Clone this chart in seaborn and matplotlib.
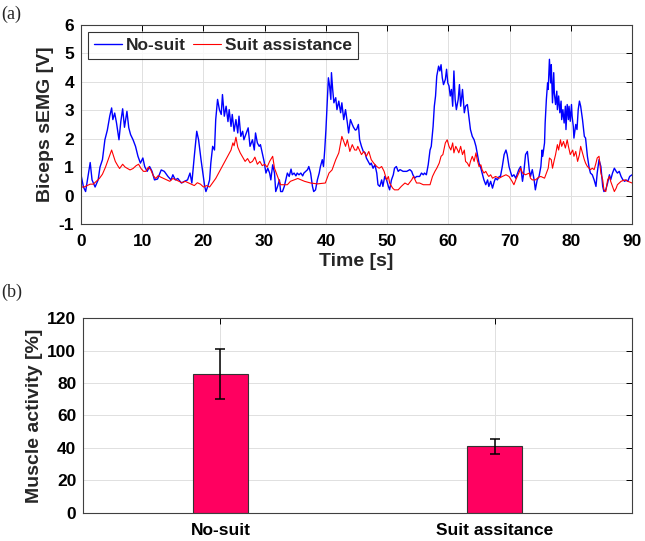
import numpy as np
import pandas as pd
import seaborn as sns
import matplotlib.pyplot as plt

# (a) biceps sEMG trace: time [s] / signal [V]
t_nosuit = [0.0, 0.4, 0.75, 1.5, 1.8, 2.3, 2.8, 3.1, 3.5, 3.9, 4.3, 4.7, 5.0, 5.2, 5.5, 5.8, 6.2, 6.5, 6.8, 7.1,
            7.5, 7.8, 8.1, 8.5, 8.9, 9.3, 9.7, 10.1, 10.4, 10.8, 11.2, 11.6, 12.0, 12.5, 13.1, 13.6, 14.2, 14.7, 15.0, 15.4,
            15.8, 16.4, 16.9, 17.4, 17.8, 18.1, 18.5, 18.9, 19.2, 19.6, 19.9, 20.2, 20.4, 20.7, 21.0, 21.2, 21.5, 21.8, 22.0, 22.3,
            22.6, 22.9, 23.1, 23.4, 23.7, 24.0, 24.2, 24.5, 24.7, 25.0, 25.3, 25.6, 25.8, 26.1, 26.4, 26.6, 27.0, 27.3, 27.6, 28.0,
            28.3, 28.5, 28.8, 29.1, 29.3, 29.6, 29.9, 30.2, 30.5, 30.8, 31.0, 31.3, 31.6, 31.8, 32.1, 32.4, 32.6, 32.9, 33.2, 33.5,
            33.7, 34.0, 34.3, 34.5, 34.8, 35.1, 35.3, 35.6, 35.9, 36.2, 36.4, 36.7, 37.0, 37.2, 37.5, 37.8, 38.0, 38.3, 38.6, 38.9,
            39.1, 39.4, 39.6, 39.8, 40.0, 40.2, 40.4, 40.6, 40.8, 40.9, 41.1, 41.3, 41.6, 41.8, 42.1, 42.4, 42.6, 42.9, 43.2, 43.5,
            43.7, 44.0, 44.3, 44.5, 44.8, 45.0, 45.3, 45.5, 45.8, 46.1, 46.4, 46.6, 46.9, 47.2, 47.4, 47.7, 48.0, 48.3, 48.5, 48.8,
            49.1, 49.3, 49.6, 49.9, 50.2, 50.4, 50.7, 51.0, 51.2, 51.5, 51.8, 52.1, 52.6, 53.2, 53.7, 54.0, 54.2, 54.5, 54.8, 55.3,
            55.6, 55.9, 56.1, 56.4, 56.7, 57.0, 57.2, 57.5, 57.7, 57.9, 58.1, 58.4, 58.6, 58.8, 59.0, 59.2, 59.5, 59.7, 59.9, 60.1,
            60.3, 60.5, 60.7, 60.9, 61.1, 61.3, 61.6, 61.8, 62.0, 62.3, 62.6, 62.8, 63.1, 63.4, 63.6, 63.9, 64.2, 64.5, 64.7, 65.0,
            65.3, 65.5, 65.8, 66.1, 66.4, 66.6, 66.9, 67.2, 67.5, 67.7, 68.0, 68.3, 68.5, 68.8, 69.1, 69.4, 69.6, 69.9, 70.2, 70.4,
            70.7, 71.0, 71.3, 71.5, 71.8, 72.1, 72.3, 72.6, 72.9, 73.2, 73.4, 73.7, 74.0, 74.2, 74.5, 74.8, 75.1, 75.3, 75.4, 75.7,
            75.8, 76.0, 76.2, 76.3, 76.5, 76.7, 76.8, 77.0, 77.2, 77.3, 77.5, 77.7, 77.8, 78.0, 78.2, 78.4, 78.5, 78.7, 78.9, 79.1,
            79.2, 79.4, 79.6, 79.7, 79.9, 80.1, 80.2, 80.4, 80.5, 80.8, 81.0, 81.2, 81.4, 81.6, 81.9, 82.2, 82.4, 82.7, 83.0, 83.2,
            83.5, 83.8, 84.1, 84.3, 84.6, 84.9, 85.2, 85.4, 85.7, 86.0, 86.3, 86.5, 86.8, 87.1, 87.4, 87.6, 87.9, 88.2, 88.5, 88.8,
            89.0, 89.3, 89.6, 90.0]
v_nosuit = [0.73, 0.3, 0.14, 1.16, 0.55, 0.3, 0.55, 1.0, 1.26, 1.96, 2.3, 2.8, 3.08, 2.67, 2.9, 2.55, 1.96, 2.6, 3.05, 2.4,
            2.96, 2.38, 2.14, 1.96, 1.73, 1.38, 1.14, 1.32, 1.02, 0.85, 1.02, 0.85, 0.55, 0.58, 0.9, 0.85, 0.67, 0.55, 0.73, 0.55,
            0.6, 0.44, 0.5, 0.55, 0.79, 0.44, 1.38, 2.26, 1.96, 1.26, 0.79, 0.32, 0.14, 0.32, 0.55, 1.14, 1.73, 1.6, 2.67, 3.38,
            3.02, 2.85, 3.55, 2.79, 3.14, 2.6, 3.02, 2.43, 2.85, 2.26, 2.67, 2.2, 2.79, 2.08, 2.26, 1.96, 2.2, 2.38, 1.73, 1.96,
            1.6, 2.2, 1.85, 1.73, 1.79, 1.5, 1.2, 0.79, 0.96, 0.79, 0.55, 1.08, 0.79, 0.14, 0.32, 0.55, 0.14, 0.14, 0.32, 0.61,
            0.79, 0.67, 0.93, 0.73, 0.79, 0.69, 0.79, 0.73, 0.79, 0.69, 0.79, 0.85, 0.91, 1.02, 0.79, 0.32, 0.14, 0.2, 0.55, 0.79,
            1.02, 1.26, 1.02, 1.6, 2.32, 3.26, 4.14, 3.85, 3.38, 4.32, 3.73, 3.26, 3.44, 3.02, 3.32, 2.91, 3.26, 2.67, 3.02, 2.55,
            2.2, 2.67, 2.5, 2.4, 2.3, 2.32, 2.5, 1.96, 1.73, 1.55, 1.5, 1.32, 1.2, 1.08, 1.14, 0.96, 1.08, 0.79, 0.38, 0.32,
            0.55, 0.32, 0.67, 0.55, 0.32, 0.2, 0.55, 0.73, 0.96, 1.02, 0.85, 0.91, 0.85, 0.85, 0.91, 0.85, 0.73, 0.61, 0.67, 0.67,
            0.79, 0.73, 0.79, 0.73, 1.08, 1.6, 1.73, 2.43, 3.14, 3.5, 4.2, 4.55, 4.38, 4.6, 4.14, 3.9, 4.08, 4.44, 3.96, 3.85,
            3.5, 3.73, 3.14, 4.38, 3.38, 3.02, 3.38, 3.9, 3.14, 3.73, 2.91, 3.14, 3.2, 2.67, 2.32, 2.08, 1.96, 1.73, 1.5, 1.14,
            0.96, 0.79, 0.55, 0.38, 0.55, 0.32, 0.5, 0.26, 0.5, 0.61, 0.55, 0.67, 0.67, 1.02, 1.44, 1.6, 1.44, 1.02, 0.79, 0.67,
            0.73, 0.61, 0.79, 0.91, 1.02, 0.5, 0.79, 1.44, 1.55, 0.91, 0.67, 0.91, 0.55, 0.2, 0.55, 0.67, 1.02, 1.6, 1.38, 1.85,
            2.55, 3.38, 3.96, 3.73, 4.79, 3.96, 4.6, 3.26, 4.32, 3.6, 3.2, 3.67, 3.02, 3.5, 2.91, 3.32, 2.67, 3.02, 2.55, 3.14,
            2.32, 3.2, 2.67, 3.14, 2.61, 3.2, 2.79, 2.43, 2.02, 2.5, 2.32, 3.02, 3.32, 3.14, 2.67, 2.08, 2.02, 1.38, 0.96, 0.79,
            0.73, 0.55, 0.32, 0.79, 1.26, 1.02, 0.32, 0.14, 0.2, 0.44, 0.73, 0.55, 0.79, 0.96, 0.85, 0.79, 0.85, 0.67, 0.55, 0.5,
            0.55, 0.5, 0.67, 0.73]

t_suit = [0.0, 0.5, 1.0, 1.5, 2.0, 2.5, 3.0, 3.5, 4.0, 4.5, 5.0, 5.3, 5.6, 6.0, 6.3, 6.8, 7.2, 7.6, 8.0, 8.5,
          9.0, 9.4, 9.8, 10.2, 10.6, 11.0, 11.4, 11.8, 12.2, 12.6, 13.0, 13.5, 14.0, 14.5, 15.0, 15.5, 16.0, 16.5, 17.0, 17.5,
          18.0, 18.5, 19.0, 19.5, 20.0, 20.5, 21.0, 21.5, 22.0, 22.5, 23.0, 23.5, 24.0, 24.5, 24.8, 25.0, 25.3, 25.6, 26.0, 26.4,
          26.8, 27.2, 27.6, 28.0, 28.4, 28.8, 29.2, 29.6, 30.0, 30.4, 30.8, 31.3, 31.6, 32.1, 32.6, 33.0, 33.7, 34.2, 34.8, 35.4,
          36.5, 37.5, 38.6, 39.9, 40.5, 41.0, 41.6, 42.1, 42.6, 43.2, 43.5, 43.9, 44.3, 44.7, 45.0, 45.2, 45.8, 46.2, 46.6, 47.0,
          47.4, 47.8, 48.3, 48.7, 49.1, 49.5, 49.9, 50.2, 50.4, 50.9, 51.2, 51.8, 52.3, 52.9, 53.4, 54.0, 54.3, 54.8, 55.3, 55.9,
          56.4, 57.0, 57.4, 57.8, 58.1, 58.5, 58.8, 59.1, 59.5, 59.8, 60.1, 60.4, 60.7, 60.9, 61.2, 61.5, 61.7, 62.0, 62.3, 62.6,
          62.8, 63.1, 63.4, 63.6, 63.9, 64.2, 64.5, 64.7, 65.0, 65.3, 65.5, 65.8, 66.1, 66.4, 66.6, 66.9, 67.2, 67.7, 68.3, 68.8,
          69.4, 69.9, 70.4, 70.7, 71.0, 71.5, 71.8, 72.1, 72.6, 73.2, 73.4, 73.7, 74.2, 74.8, 75.1, 75.7, 76.0, 76.3, 76.5, 76.8,
          77.0, 77.3, 77.5, 77.8, 78.0, 78.3, 78.5, 78.8, 79.1, 79.4, 79.6, 79.9, 80.3, 80.5, 80.8, 81.1, 81.4, 81.6, 81.9, 82.2,
          82.4, 82.7, 83.0, 83.2, 83.5, 83.8, 84.1, 84.3, 84.6, 84.9, 85.2, 85.4, 85.7, 86.0, 86.3, 86.5, 86.8, 87.1, 87.4, 87.6,
          88.2, 88.8, 89.3, 90.0]
v_suit = [0.3, 0.3, 0.35, 0.4, 0.4, 0.5, 0.6, 0.75, 1.0, 1.3, 1.6, 1.4, 1.2, 1.05, 0.95, 1.1, 1.0, 0.95, 0.9, 0.95,
          1.05, 1.1, 0.95, 0.85, 0.85, 1.0, 0.9, 0.7, 0.6, 0.7, 0.65, 0.6, 0.55, 0.5, 0.6, 0.55, 0.5, 0.45, 0.5, 0.45,
          0.4, 0.35, 0.45, 0.4, 0.3, 0.35, 0.3, 0.45, 0.6, 0.8, 1.0, 1.2, 1.4, 1.6, 1.85, 1.75, 2.05, 1.7, 1.5, 1.35,
          1.2, 1.3, 1.15, 1.2, 1.35, 1.1, 1.2, 1.05, 1.1, 1.0, 1.2, 1.38, 0.96, 0.67, 0.38, 0.38, 0.38, 0.5, 0.55, 0.6,
          0.5, 0.44, 0.41, 0.44, 0.79, 0.9, 1.26, 1.5, 2.08, 1.73, 1.96, 1.55, 1.79, 1.6, 1.6, 1.73, 1.44, 1.55, 1.38, 1.55,
          1.26, 1.14, 1.02, 0.96, 1.02, 0.85, 0.55, 0.67, 0.44, 0.26, 0.2, 0.2, 0.32, 0.44, 0.38, 0.55, 0.67, 0.44, 0.44, 0.38,
          0.38, 0.38, 0.67, 0.85, 0.96, 1.14, 1.38, 1.44, 1.85, 1.96, 1.73, 1.6, 1.85, 1.5, 1.73, 1.6, 1.5, 1.73, 1.44, 1.6,
          1.2, 1.14, 1.02, 1.2, 1.38, 1.2, 1.5, 1.26, 1.02, 1.08, 0.91, 0.79, 0.85, 0.73, 0.67, 0.73, 0.61, 0.67, 0.61, 0.67,
          0.73, 0.67, 0.5, 0.38, 0.55, 0.79, 0.96, 0.79, 0.73, 0.79, 0.61, 0.55, 0.55, 0.65, 0.67, 0.61, 0.79, 0.96, 1.32, 1.26,
          0.96, 1.26, 1.44, 1.79, 1.6, 1.96, 1.73, 1.9, 1.67, 1.96, 1.73, 1.44, 1.6, 1.38, 1.55, 1.2, 1.44, 1.73, 1.5, 1.26,
          1.14, 1.02, 0.96, 0.91, 0.96, 0.91, 1.14, 1.32, 1.38, 0.79, 0.55, 0.2, 0.14, 0.55, 0.67, 0.5, 0.32, 0.14, 0.26, 0.38,
          0.5, 0.55, 0.5, 0.44]

# (b) normalised muscle activity, mean and std
conditions = ['No-suit', 'Suit assitance']
activity = [85.5, 41.0]
activity_err = [15.6, 4.6]

sns.set_style('white')
plt.rcParams['font.family'] = ['Liberation Sans', 'DejaVu Sans']
plt.rcParams['font.weight'] = 'bold'
plt.rcParams['axes.labelweight'] = 'bold'
plt.rcParams['axes.unicode_minus'] = False
plt.rcParams['xtick.direction'] = 'in'
plt.rcParams['ytick.direction'] = 'in'

grid_kw = dict(color='#e0e0e0', linewidth=0.7)
edge = '#404040'

fig = plt.figure(figsize=(6.45, 5.41), dpi=100)
ax1 = fig.add_axes([0.1256, 0.586, 0.8544, 0.368])
ax2 = fig.add_axes([0.129, 0.052, 0.851, 0.360])

# top panel
df_a = pd.DataFrame({'t': t_nosuit, 'v': v_nosuit})
df_b = pd.DataFrame({'t': t_suit, 'v': v_suit})
sns.lineplot(data=df_a, x='t', y='v', ax=ax1, color='#0000ff', linewidth=1.0,
             estimator=None, sort=False, label='No-suit')
sns.lineplot(data=df_b, x='t', y='v', ax=ax1, color='#ff0000', linewidth=0.8,
             estimator=None, sort=False, label='Suit assistance')
ax1.set_xlim(0, 90)
ax1.set_ylim(-1, 6)
ax1.set_xticks(range(0, 91, 10))
ax1.set_yticks(range(-1, 7))
ax1.set_xlabel('Time [s]', fontsize=14, labelpad=3)
ax1.set_ylabel('Biceps sEMG [V]', fontsize=14, labelpad=3)
leg = ax1.legend(loc='upper left', ncol=2, frameon=True, fancybox=False, edgecolor='black',
                 prop={'weight': 'bold', 'size': 12.5}, handlelength=1.6, handletextpad=0.25,
                 columnspacing=0.4, borderpad=0.35, borderaxespad=0.4)
leg.get_frame().set_linewidth(0.8)

# bottom panel
df_bar = pd.DataFrame({'cond': conditions, 'act': activity})
sns.barplot(data=df_bar, x='cond', y='act', ax=ax2, color='#ff0060', saturation=1,
            width=0.2, edgecolor='#333333', linewidth=0.8, errorbar=None)
ax2.errorbar(range(len(conditions)), activity, yerr=activity_err, fmt='none',
             ecolor='black', elinewidth=1.1, capsize=3.5, capthick=1.1)
ax2.set_xlim(-0.5, 1.5)
ax2.set_ylim(0, 120)
ax2.set_yticks(range(0, 121, 20))
ax2.set_xlabel('')
ax2.set_ylabel('Muscle activity [%]', fontsize=14, labelpad=3)

for ax in (ax1, ax2):
    ax.grid(True, **grid_kw)
    ax.set_axisbelow(True)
    ax.tick_params(labelsize=12.5, length=4, width=0.7, colors='black', top=True, right=True)
    ax.tick_params(axis='x', pad=7)
    ax.tick_params(axis='y', pad=5)
    for s in ax.spines.values():
        s.set_color(edge)
        s.set_linewidth(0.8)
    for lab in ax.get_xticklabels() + ax.get_yticklabels():
        lab.set_fontweight('bold')

fig.text(0.002, 0.974, '(a)', family='Liberation Serif', fontsize=13, weight='normal', va='center')
fig.text(0.002, 0.46, '(b)', family='Liberation Serif', fontsize=13, weight='normal', va='center')

fig.savefig('out.png', dpi=100)
